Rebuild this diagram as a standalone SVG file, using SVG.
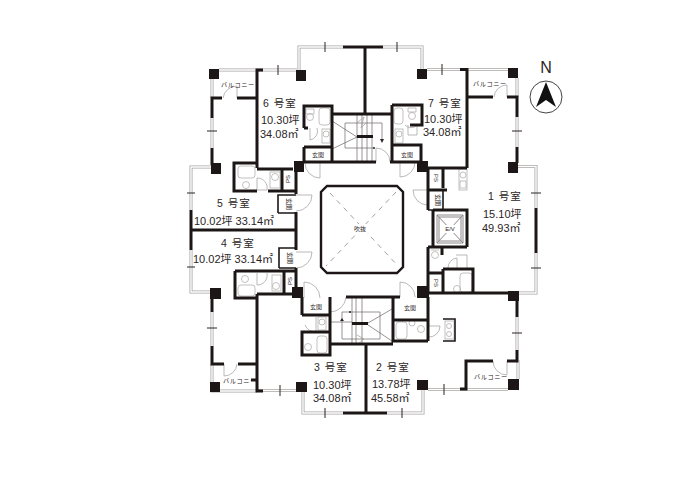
<svg xmlns="http://www.w3.org/2000/svg" xmlns:xlink="http://www.w3.org/1999/xlink" width="680" height="480" viewBox="0 0 680 480">
<style>
text{font-family:"Liberation Sans","Noto Sans CJK JP",sans-serif;fill:#2b2525}
.t{font-size:11px}
.h{font-size:10.5px;letter-spacing:1px}
.s{font-size:6px;text-anchor:middle}
.b{font-size:6.2px;letter-spacing:.6px}
.wall{fill:none;stroke:#1c1616;stroke-width:3;stroke-linecap:butt;stroke-linejoin:miter}
.w2{fill:none;stroke:#1c1616;stroke-width:1.6}
.ev{fill:none;stroke:#8a8686;stroke-width:1}
.p{fill:#1c1616}
.go{fill:none;stroke:#a8a4a4;stroke-width:3}
.gi{fill:none;stroke:#fff;stroke-width:1.4}
.tick{fill:none;stroke:#2b2525;stroke-width:1}
.fx{fill:none;stroke:#b4b0b0;stroke-width:.8}
.thin{fill:none;stroke:#6a6464;stroke-width:.7}
.door{fill:none;stroke:#aaa6a6;stroke-width:.8}
.dash{fill:none;stroke:#8a8686;stroke-width:.8;stroke-dasharray:5 5}
</style>
<defs>
<path id="g" d="M257 70H297M299 72V47H343M383 47H422V70M427 69.500H460M467 69.500H508M517 78V97M518 166.500H536V208M536 253V293H518M517 117V147M517 317V350M518 360V379M460 389.500H428M423 389V413H387M343 413H303V391M296 390.500H257M257 391H212V382M212 364V382M212 346V312M212 148V118M212 79V98M219 70H257M212 167H191V210M191 250V292H212M460 389.500H508"/>
</defs>
<rect width="680" height="480" fill="#fff"/>
<g id="glazing">
<use href="#g" xlink:href="#g" class="go"/>
<use href="#g" xlink:href="#g" class="gi"/>
<path class="tick" d="M278 65V75M325 42V52M397 42V52M442 64V75M512 131H522M531 193H541M187 193H195M187 267H195M207 131H217M207 328H217M280 385V396M325 408V418M402 408V418M444 384V395M512 333H522M531 268H541"/>
</g>
<g id="fixtures">
<rect class="fx" x="319" y="108" width="11" height="17" rx="3"/><circle class="fx" cx="310" cy="117" r="3.500"/><path class="fx" d="M306 109H314V114H306Z"/><rect class="fx" x="322" y="129" width="8" height="14"/><circle class="fx" cx="326" cy="134" r="3"/>
<rect class="fx" x="394" y="108" width="9" height="16" rx="3"/><circle class="fx" cx="412" cy="116" r="3.500"/><path class="fx" d="M408 108H416V112H408Z"/><rect class="fx" x="395" y="129" width="8" height="14"/><circle class="fx" cx="399" cy="134" r="3"/>
<rect class="fx" x="238" y="166" width="17" height="12" rx="3"/><circle class="fx" cx="246" cy="185" r="3.500"/><rect class="fx" x="270" y="172" width="10" height="16"/><circle class="fx" cx="275" cy="177" r="3.500"/>
<rect class="fx" x="238" y="285" width="17" height="11" rx="3"/><circle class="fx" cx="245" cy="279" r="3.500"/><rect class="fx" x="272" y="275" width="9" height="16"/><circle class="fx" cx="276" cy="286" r="3.500"/>
<rect class="fx" x="317" y="336" width="10" height="17" rx="3"/><circle class="fx" cx="308" cy="347" r="3.500"/><rect class="fx" x="318" y="317" width="8" height="13"/><circle class="fx" cx="322" cy="322" r="3"/>
<rect class="fx" x="396" y="322" width="11" height="17" rx="3"/><circle class="fx" cx="421" cy="329" r="3.500"/><circle class="fx" cx="412" cy="323" r="3"/>
<rect class="fx" x="460" y="273" width="12" height="19" rx="3"/><circle class="fx" cx="457" cy="289" r="3.500"/><circle class="fx" cx="435" cy="255" r="3.500"/><path class="fx" d="M431 250H439"/>
<rect class="fx" x="459" y="169" width="8" height="21"/><circle class="fx" cx="463" cy="175" r="3"/><rect class="fx" x="460" y="181" width="6" height="7"/>
<rect class="fx" x="445" y="321" width="9" height="18"/><circle class="fx" cx="449" cy="326" r="2.500"/><circle class="fx" cx="449" cy="334" r="2.500"/>
</g>
<g id="doors">
<path class="door" d="M320 163V178A15 15 0 0 1 305 163M400 162V177A15 15 0 0 0 415 162M296 195H312A16 16 0 0 1 296 211M296 252H312A16 16 0 0 1 296 268M304 298V282A16 16 0 0 1 320 298M400 297V282A15 15 0 0 1 415 297M427 190H413A15 15 0 0 0 427 205"/>
<path class="door" d="M237 98V86A14 14 0 0 0 223 98M507 97V85A13 13 0 0 0 494 97M224 364V376A13 13 0 0 0 237 364M507 361V375A14 14 0 0 1 493 361M428 326H440A11 11 0 0 1 428 337M257 178V190H267A10 10 0 0 0 257 178M257 273V285A10 10 0 0 0 267 273M330 312A16 16 0 0 0 346 297M390 162A14 14 0 0 0 376 148V162M310 128V140A9 9 0 0 0 317 128M316 317V332A12 12 0 0 1 305 325M405 125A8 8 0 0 0 417 125V135H408V125M448 268A10 10 0 0 1 457 258V268M456 255H467V268"/>
</g>
<g id="stairs">
<path class="thin" d="M332 121L357 137M332 149L357 137M345 123V148H374M345 123H382V139M357 115V162M362 115V162M367 115V162M372 115V162"/>
<path d="M380 139H384L382 143Z" fill="#2b2525"/>
<path class="door" d="M358 122L364 117L361 128L366 123"/>
<circle cx="374" cy="148" r="1" fill="#2b2525"/>
<path class="thin" d="M368 323L392 309M368 325L392 341M342 312H380V339H342ZM330 322H352M352 298V344M356 298V344M362 298V344"/>
<path d="M340 321H344L342 318Z" fill="#2b2525"/>
<circle cx="350" cy="312" r="1" fill="#2b2525"/>
<path class="door" d="M357 335L364 339L358 344"/>
<path class="p" d="M357 135H373V138H357ZM352 322H368V325H352Z"/>
</g>
<g id="walls">
<path class="wall" d="M263 70H257V168M212 118V98H222M237 98H257M212 148V165M212 299V312M212 346V364H224M238 364H257M257 294V391H263M251 380H257M536 208V253"/>
<path class="wall" d="M343 47H383M365 47V114M343 413H387M366 345V413"/>
<path class="wall" d="M304 128H308M304 128V106H332V162M304 147V162M304 147H332M304 162H376M390 162H421M332 114H392M392 105V162M410 125H422V105H392M392 145H421V162"/>
<path class="wall" d="M460 69.500H467V168M467 97H493M507 97H517V117M517 147V163M428 168H467M428 168V190M443 168V188M428 190H447M428 190V210M433 210V247M433 210H467V247M428 247H467M428 247V293M428 273H443M443 269V293M443 269H473V293M428 293H508M442 248V255"/>
<path class="ev" d="M437 215H463V243H437ZM439 217H461V241H439ZM437 215L463 243M463 215L437 243"/>
<path class="w2" d="M428 210H443V190"/>
<path class="wall" d="M517 301V317M517 350V361H507M493 361H466V389H460M393 297V341H428M393 320H428M428 297V341M346 297H400M330 297V355H302V332H330M302 315H330M302 297V315M330 344H393"/>
<path class="w2" d="M443 319H455V341H443"/>
<path class="wall" d="M190 230H296M191 210V250M296 162V194M296 212V250M296 268V292M257 163H234V191H257M257 169H293M268 191H296M282 169V190M235 271H296M235 271V298H257M284 271V294M257 294H296"/>
<path class="w2" d="M278 213V195H296M278 213H296M279 268V248H296M279 268H296"/>
<path class="wall" style="stroke-width:2.400" d="M327 186H397L403 192V267L397 273H327L321 267V192Z"/>
</g>
<g id="pillars" class="p">
<rect x="209" y="69" width="10" height="10"/><rect x="296" y="70" width="10" height="11"/><rect x="417" y="69" width="10" height="10"/><rect x="508" y="68" width="10" height="10"/>
<rect x="211" y="163" width="10" height="11"/><rect x="294" y="161" width="10" height="11"/><rect x="417" y="161" width="11" height="11"/><rect x="508" y="162" width="10" height="11"/>
<rect x="210" y="288" width="11" height="11"/><rect x="292" y="287" width="11" height="11"/><rect x="417" y="286" width="12" height="12"/><rect x="508" y="291" width="11" height="10"/>
<rect x="210" y="382" width="10" height="10"/><rect x="296" y="382" width="11" height="10"/><rect x="417" y="380" width="11" height="10"/><rect x="508" y="379" width="11" height="11"/>
</g>
<g id="atrium">
<path class="dash" d="M330 193L398 266M396 192L326 266"/>
<rect x="352" y="224" width="16" height="9" fill="#fff"/>
<text class="s" x="360" y="231">吹抜</text>
</g>
<g id="labels">
<text class="h" x="263" y="107">6 号室</text><text class="t" x="261" y="124">10.30坪</text><text class="t" x="260" y="138">34.08㎡</text>
<text class="h" x="428" y="107">7 号室</text><text class="t" x="424" y="123">10.30坪</text><text class="t" x="423" y="136">34.08㎡</text>
<text class="h" x="488" y="200">1 号室</text><text class="t" x="483" y="218">15.10坪</text><text class="t" x="482" y="232">49.93㎡</text>
<text class="h" x="376" y="371">2 号室</text><text class="t" x="372" y="388">13.78坪</text><text class="t" x="371" y="402">45.58㎡</text>
<text class="h" x="314" y="371">3 号室</text><text class="t" x="313" y="389">10.30坪</text><text class="t" x="313" y="402">34.08㎡</text>
<text class="h" x="217" y="207">5 号室</text><text class="t" x="194" y="225">10.02坪 33.14㎡</text>
<text class="h" x="221" y="247">4 号室</text><text class="t" x="193" y="263">10.02坪 33.14㎡</text>
<text class="b" x="221" y="87">バルコニー</text><text class="b" x="473" y="86">バルコニー</text><text class="b" x="223" y="383">バルコニー</text><text class="b" x="474" y="379">バルコニー</text>
<text class="s" x="318" y="157">玄関</text><text class="s" x="407" y="157">玄関</text><text class="s" x="316" y="309">玄関</text><text class="s" x="410" y="310">玄関</text>
<text class="s" transform="translate(287 204) rotate(90)">玄関</text><text class="s" transform="translate(288 258) rotate(90)">玄関</text><text class="s" transform="translate(436 200) rotate(90)">玄関</text>
<text class="s" transform="translate(290 179) rotate(-90)">PS</text><text class="s" transform="translate(292 281) rotate(-90)">PS</text><text class="s" transform="translate(434 178) rotate(90)">PS</text><text class="s" transform="translate(434 283) rotate(90)">PS</text>
<rect x="444" y="225" width="12" height="8" fill="#fff"/>
<text class="s" x="450" y="231">E/V</text>
</g>
<g id="compass">
<text x="546" y="73" style="font-size:16px;text-anchor:middle">N</text>
<circle cx="546" cy="97" r="16" fill="#fff" stroke="#444" stroke-width="1"/>
<path d="M546 82L556 107L546 100L536 107Z" fill="#111"/>
</g>
</svg>
